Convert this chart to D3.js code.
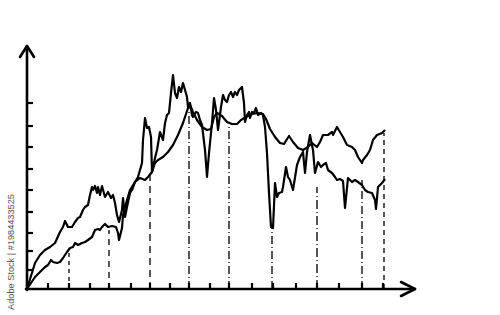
<!DOCTYPE html>
<html>
<head>
<meta charset="utf-8">
<script src="https://cdn.jsdelivr.net/npm/d3@7"></script>
<style>
  html, body { margin: 0; padding: 0; background: #ffffff; }
  svg { display: block; }
</style>
</head>
<body>
<svg id="chart" width="500" height="315"></svg>
<script>
// ---- data (x in days, y in index units) ----
const jaggedX = [0,4,6.5,9,11.5,14,16.5,18,19,20.5,22.5,24,25.5,26.5,28,29,30.5,31.5,32.5,33,34,35,35.5,36.5,37.5,39,40.5,42,43,44,45,46,47.5,48,49,50,51.5,52.5,54,55.5,57.5,58,59,60,61,62,62.5,64,65,66.5,68,69,70,71,72,73,74,75,76,77,78,79,80,80.5,81.5,82.5,83,84.5,85.5,86.5,87.5,89,90,91,92.5,93.5,94.5,95.5,97,98,99,100,101,102,103,104,105,106,107.5,108.5,109,110,111,111.5,112.5,113.5,114.5,115.5,117,118,119,120,121,122,123,124,125,126,127.5,128,129.5,130.5,131.5,133,135,136.5,138,139,140,141.5,143,144,145.5,147,148,149.5,150.5,152.5,154,155,156.5,158,159,160.5,162.5,164,165.5,167.5,169,170.5,172.5,174,174.5,175.5,177.5,179];
const jaggedY = [0,10.4,13.6,15.6,16.8,18.4,22.8,24.8,27.2,24.8,24.8,26.8,28.4,28.8,31.6,32.8,33.6,37.6,40.8,39.6,41.2,38.4,40.8,37.6,41.2,36.8,38.8,36.4,37.6,34.4,29.6,26.8,31.6,36.4,28.8,32.8,38.4,39.6,42.8,44.8,50.4,59.6,68.4,64.4,64.8,60.8,46.8,52.4,55.6,62.8,59.6,66.4,69.6,70.4,78.4,85.6,78.4,76.4,80.8,78.8,82.4,79.6,76.8,72.8,74.4,69.6,68.8,70.8,70.4,67.6,65.6,55.6,44.8,54.4,66.4,76.4,71.6,63.6,72.8,77.6,75.6,74.8,77.6,78.8,76.8,78.8,77.6,79.6,80.8,74.4,66.8,69.6,70.8,68.4,70.8,70.4,72.4,69.6,70.4,69.6,64.8,54.4,38.4,24.8,24.4,42.4,36.8,38.4,38.8,40.8,48.8,44.8,43.6,39.6,49.6,52.8,54.8,46.4,54.8,61.6,55.6,46.4,50.8,48.8,49.6,50.4,47.6,46.4,44.8,43.6,44,43.2,32.4,44.4,42.8,43.6,42.8,41.6,39.6,38.8,38.4,35.6,32,40.8,42.4,44];

const smoothX = [0,4,7.5,9,10.5,12,13,15,16.5,18,20,21.5,23,24,25.5,27.5,29,30.5,32.5,34,35.5,36.5,37.5,39,40.5,42.5,44.5,45.5,46,47.5,48,50,51.5,54,56.5,59,60.5,62.5,64,65.5,68,70.5,73,75.5,78,80.5,81.5,83,85,87.5,90,92,93.5,95,97.5,100,102.5,105,107,109.5,112.5,115.5,118,119.5,121.5,124,126.5,128.5,131,133,135.5,138,140.5,142.5,145,146.5,148,150.5,152.5,153,155,156.5,158,160,162.5,164,165.5,167.5,168,170,171.5,173,175,177.5,179];
const smoothY = [0,4.8,7.6,8.8,9.6,11.6,10.8,10.4,10.8,12.4,14.8,16.4,16.8,18.4,17.6,18.4,18.8,19.6,20.8,23.6,24,23.6,24.8,26,24.8,25.2,24.8,22.4,19.6,24.4,29.6,35.6,39.6,42.8,44.4,43.6,44.8,46.8,50.4,51.6,52.8,54.8,57.6,61.6,66.4,72.4,73.6,70.8,67.6,64.8,63.6,64,68.8,70.4,69.2,66.8,66,66,67.6,68.8,70,70.4,70,68,64,60.8,58.4,58,61.2,58.8,56.4,55.6,56.8,58.4,56.8,58.8,61.6,61.6,62.8,61.6,64.8,62.8,60.8,57.6,56.8,55.6,52.8,50.4,51.6,53.6,55.6,59.6,61.6,62.4,63.6];

// vertical drop lines (x in days, top value)
const dropX = [21,41,61.5,81,101,122.5,145,167.5,178.5];
const dropY = [15.6,23.6,46.4,73.6,65.6,24.4,40.8,43.6,62.4];

// tick positions (hand-drawn, unlabeled)
const xTicks = [10.5,21,31.5,41,52,61.5,71.5,81,91.5,101,112.5,123,134.5,145,156,167.5,178];
const yTicks = [7.6,15.2,22.4,30.8,39.6,48,56.8,65.2,74.4];

const watermark = "Adobe Stock | #1984433525";

// ---- drawing ----
const svg = d3.select("#chart");
const x = d3.scaleLinear().domain([0, 194]).range([27, 415]);
const y = d3.scaleLinear().domain([0, 100]).range([289, 39]);

const xAxisEnd = 194, yAxisEnd = 97.2;

// drop lines
const dashStyles = ["4,4","6,5","7,5","8,3,1,3","8,3,1,3","8,3,1,3","9,3,1,3","8,3,1,3","5,4"];
svg.append("g").selectAll("line").data(dropX).join("line")
  .attr("x1", d => x(d)).attr("x2", d => x(d))
  .attr("y1", y(0)).attr("y2", (d, i) => y(dropY[i]))
  .attr("stroke", "#111").attr("stroke-width", 1.4)
  .attr("stroke-dasharray", (d, i) => dashStyles[i]);

// series
const line = d3.line().x(d => x(d[0])).y(d => y(d[1]));
const smooth = smoothX.map((v, i) => [v, smoothY[i]]);
const jagged = jaggedX.map((v, i) => [v, jaggedY[i]]);
svg.append("path").datum(smooth).attr("d", line)
  .attr("fill", "none").attr("stroke", "#000").attr("stroke-width", 2.2)
  .attr("stroke-linejoin", "round");
svg.append("path").datum(jagged).attr("d", line)
  .attr("fill", "none").attr("stroke", "#000").attr("stroke-width", 2.2)
  .attr("stroke-linejoin", "round");

// axes
const ax = svg.append("g").attr("stroke", "#000").attr("fill", "none")
  .attr("stroke-width", 2.6).attr("stroke-linecap", "round").attr("stroke-linejoin", "round");
ax.append("line").attr("x1", x(0)).attr("x2", x(0)).attr("y1", y(0) + 1).attr("y2", y(yAxisEnd));
ax.append("line").attr("x1", x(0) - 1).attr("x2", x(xAxisEnd)).attr("y1", y(0)).attr("y2", y(0));
// arrow heads
ax.append("path").attr("d", `M${x(0) - 7},${y(yAxisEnd) + 11} L${x(0)},${y(yAxisEnd)} L${x(0) + 7},${y(yAxisEnd) + 11}`);
ax.append("path").attr("d", `M${x(xAxisEnd) - 14},${y(0) - 7} L${x(xAxisEnd)},${y(0)} L${x(xAxisEnd) - 14},${y(0) + 7}`);

// ticks
const tk = svg.append("g").attr("stroke", "#000").attr("stroke-width", 2.2);
tk.selectAll(".xt").data(xTicks).join("line").attr("class", "xt")
  .attr("x1", d => x(d)).attr("x2", d => x(d)).attr("y1", y(0)).attr("y2", y(0) - 6);
tk.selectAll(".yt").data(yTicks).join("line").attr("class", "yt")
  .attr("x1", x(0)).attr("x2", x(0) + 6).attr("y1", d => y(d)).attr("y2", d => y(d));

// watermark text
svg.append("text")
  .attr("transform", "translate(14,252) rotate(-90)")
  .attr("text-anchor", "middle")
  .attr("font-family", "Liberation Sans, Arial, sans-serif")
  .attr("font-size", 9.2)
  .attr("fill", "#555")
  .text(watermark);
</script>
</body>
</html>
